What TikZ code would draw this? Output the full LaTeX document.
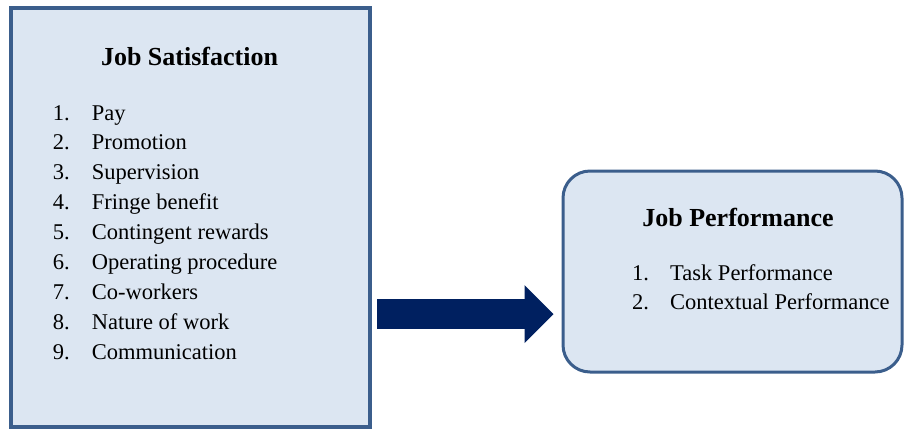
\documentclass[tikz,border=0pt]{standalone}
\usepackage{fontspec}
\setmainfont{Liberation Serif}
\usetikzlibrary{arrows.meta}
\definecolor{boxline}{RGB}{59,94,140}
\definecolor{boxfill}{RGB}{220,230,242}
\definecolor{arrowblue}{RGB}{0,32,96}

\begin{document}
\begin{tikzpicture}[x=1pt,y=-1pt,
    box/.style={draw=boxline,fill=boxfill,inner sep=0pt},
    title/.style={font=\fontsize{26}{30}\selectfont\bfseries,inner sep=0pt,anchor=base},
    items/.style={font=\fontsize{22.5}{29.9}\selectfont,inner sep=0pt,anchor=base west}]
  \useasboundingbox (0,0) rectangle (905,429);
  \node(js) [box,line width=4pt,minimum width=359.5pt,minimum height=419.5pt] at (190.25,217.25) {};
  \node(jp) [box,line width=3pt,rounded corners=27pt,minimum width=339pt,minimum height=201pt] at (732.5,271.5) {};
  \node(jstitle) [title] at (189.5,65) {Job Satisfaction};
  \node(jslist)  [items] at (52.7,120)
    {\begin{tabular}[t]{@{}p{39pt}@{}l@{}}
       1. & Pay\\
       2. & Promotion\\
       3. & Supervision\\
       4. & Fringe benefit\\
       5. & Contingent rewards\\
       6. & Operating procedure\\
       7. & Co-workers\\
       8. & Nature of work\\
       9. & Communication
     \end{tabular}};
  \node(jptitle) [title] at (738,226.7) {Job Performance};
  \node(jplist)  [items] at (632,280)
    {\begin{tabular}[t]{@{}p{38pt}@{}l@{}}
       1. & Task Performance\\
       2. & Contextual Performance
     \end{tabular}};
  \coordinate (from) at ([xshift=5pt]js.east |- 0,314);
  \coordinate (to)   at ([xshift=-8pt]jp.west |- 0,314);
  \draw[arrowblue,line width=30pt,-{Triangle[length=29pt,width=58pt,line width=0pt]}] (from) -- (to);
\end{tikzpicture}
\end{document}
